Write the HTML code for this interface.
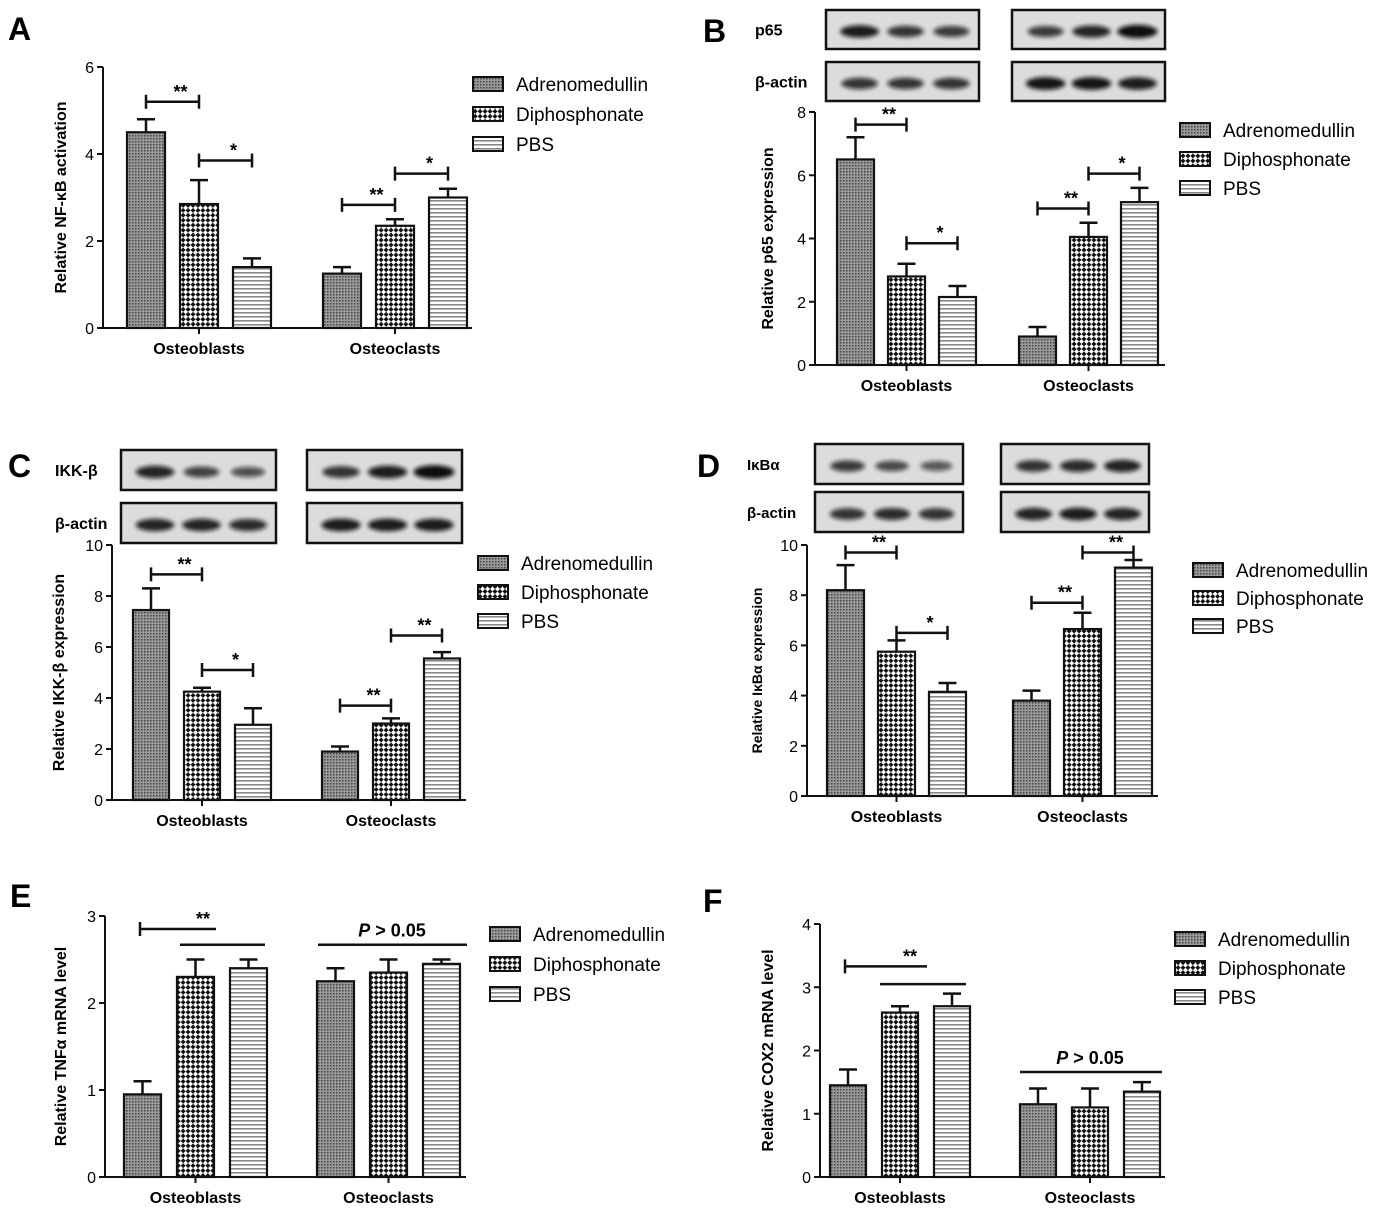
<!DOCTYPE html>
<html><head><meta charset="utf-8"><style>
body{margin:0;background:#fff}
svg text{font-family:"Liberation Sans",sans-serif}
</style></head><body>
<svg id="fig" width="1382" height="1220" xmlns="http://www.w3.org/2000/svg">
<defs>
<pattern id="patA" width="3" height="3" patternUnits="userSpaceOnUse"><rect width="3" height="3" fill="#9a9a9a"/><rect width="1.5" height="1.5" fill="#444"/></pattern>
<pattern id="patD" width="7" height="7" patternUnits="userSpaceOnUse" patternTransform="rotate(45)"><rect width="7" height="7" fill="#fff"/><rect width="3.5" height="3.5" fill="#111"/><rect x="3.5" y="3.5" width="3.5" height="3.5" fill="#111"/></pattern>
<pattern id="patP" width="4" height="4" patternUnits="userSpaceOnUse"><rect width="4" height="4" fill="#fff"/><rect y="0" width="4" height="1.6" fill="#888"/></pattern>
<filter id="blur" x="-30%" y="-80%" width="160%" height="260%"><feGaussianBlur stdDeviation="2.2"/></filter>
</defs>
</svg>
<script>
const categories = ["Osteoblasts","Osteoclasts"];
const seriesNames = ["Adrenomedullin","Diphosphonate","PBS"];
const valsA = [4.5,2.85,1.4,1.25,2.35,3.0];
const errA = [0.3,0.55,0.2,0.15,0.15,0.2];
const ticksA = [0,2,4,6];
const valsB = [6.5,2.8,2.15,0.9,4.05,5.15];
const errB = [0.7,0.4,0.35,0.3,0.45,0.45];
const ticksB = [0,2,4,6,8];
const valsC = [7.45,4.25,2.95,1.9,3.0,5.55];
const errC = [0.85,0.15,0.65,0.2,0.2,0.25];
const ticksC = [0,2,4,6,8,10];
const valsD = [8.2,5.75,4.15,3.8,6.65,9.1];
const errD = [1.0,0.45,0.35,0.4,0.65,0.3];
const ticksD = [0,2,4,6,8,10];
const valsE = [0.95,2.3,2.4,2.25,2.35,2.45];
const errE = [0.15,0.2,0.1,0.15,0.15,0.05];
const ticksE = [0,1,2,3];
const valsF = [1.45,2.6,2.7,1.15,1.1,1.35];
const errF = [0.25,0.1,0.2,0.25,0.3,0.15];
const ticksF = [0,1,2,3,4];
// significance brackets: [barFrom, barTo, yValue, label]
const sigA = [[0,1,5.2,"**"],[1,2,3.85,"*"],[3,4,2.83,"**"],[4,5,3.55,"*"]];
const sigB = [[0,1,7.6,"**"],[1,2,3.85,"*"],[3,4,4.95,"**"],[4,5,6.05,"*"]];
const sigC = [[0,1,8.85,"**"],[1,2,5.1,"*"],[3,4,3.7,"**"],[4,5,6.45,"**"]];
const sigD = [[0,1,9.7,"**"],[1,2,6.5,"*"],[3,4,7.7,"**"],[4,5,9.7,"**"]];
// blot band intensities (0-1) per row: left group 3 lanes, right group 3 lanes
const blotB1 = [0.9,0.75,0.7,0.7,0.85,1.0];
const blotB2 = [0.75,0.75,0.75,0.95,0.95,0.9];
const blotC1 = [0.85,0.65,0.55,0.75,0.9,1.0];
const blotC2 = [0.85,0.85,0.8,0.9,0.9,0.9];
const blotD1 = [0.7,0.6,0.5,0.75,0.8,0.85];
const blotD2 = [0.75,0.8,0.75,0.85,0.9,0.85];

const svg = document.getElementById('fig');
const NS = 'http://www.w3.org/2000/svg';
function mk(tag, attrs, parent){const e=document.createElementNS(NS,tag);for(const k in attrs)e.setAttribute(k,attrs[k]);(parent||svg).appendChild(e);return e;}
const fills = ['url(#patA)','url(#patD)','url(#patP)'];

function panel(p){
  const g = mk('g',{});
  
  
  const ymax = p.ticks[p.ticks.length-1];
  const ys = v => p.y0 - (p.y0-p.y1)*v/ymax;
  const bx = i => (i<3? p.g1 : p.g2) + (i%3)*p.step;
  const bc = i => bx(i)+p.w/2;
  const L = mk('text',{x:p.lx,y:p.ly,'font-size':32,'font-weight':'bold'},g); L.textContent=p.id;
  
  
  p.vals.forEach((v,i)=>{
    const t = ys(v+p.err[i]);
    const eb = mk('path',{d:`M${bc(i)},${ys(v)}V${t}M${bc(i)-9},${t}H${bc(i)+9}`,stroke:'#111','stroke-width':2.5,fill:'none'},g);
    
    
    const r = mk('rect',{x:bx(i),y:ys(v),width:p.w,height:p.y0-ys(v),fill:fills[i%3],stroke:'#111','stroke-width':2.2},g);
    
    
  });
  const ax = mk('path',{d:`M${p.ax},${p.y1}V${p.y0}H${p.xend}`,stroke:'#111','stroke-width':2,fill:'none'},g);
  
  
  p.ticks.forEach(t=>{
    mk('line',{x1:p.ax-6,x2:p.ax,y1:ys(t),y2:ys(t),stroke:'#111','stroke-width':2},g);
    const tx = mk('text',{x:p.ax-9,y:ys(t)+6,'font-size':16,'text-anchor':'end'},g); tx.textContent=t;
    
    
  });
  [0,1].forEach(c=>{
    const mid = (bx(c*3)+bx(c*3+2)+p.w)/2;
    mk('line',{x1:mid,x2:mid,y1:p.y0,y2:p.y0+6,stroke:'#111','stroke-width':2},g);
    const t = mk('text',{x:mid,y:p.y0+26,'font-size':16,'font-weight':'bold','text-anchor':'middle'},g); t.textContent=categories[c];
    
    
  });
  const yt = mk('text',{x:0,y:0,'font-size':p.tfs||16,'font-weight':'bold','text-anchor':'middle',transform:`translate(${p.tx},${(p.y0+p.y1)/2}) rotate(-90)`},g);
  yt.textContent = p.title;
  
  
  (p.sig||[]).forEach(s=>{
    const x1=bc(s[0]), x2=bc(s[1]), y=ys(s[2]);
    const b = mk('path',{d:`M${x1},${y-7}V${y+7}M${x1},${y}H${x2}M${x2},${y-7}V${y+7}`,stroke:'#111','stroke-width':2.5,fill:'none'},g);
    
    
    const st = mk('text',{x:(x1+x2)/2+8,y:y-4,'font-size':18,'font-weight':'bold','text-anchor':'middle'},g); st.textContent=s[3];
    
    
  });
  seriesNames.forEach((n,i)=>{
    const y = p.legY + i*p.legStep;
    const r = mk('rect',{x:p.legX,y:y-7,width:30,height:14,fill:fills[i],stroke:'#111','stroke-width':2},g);
    
    
    const t = mk('text',{x:p.legX+43,y:y+7,'font-size':19},g); t.textContent=n;
    
    
  });
  if(p.blot){
    p.blot.rows.forEach((row,ri)=>{
      const y = p.blot.ry[ri];
      [0,1].forEach(gi=>{
        const x = p.blot.gx[gi];
        const w = p.blot.w, h = p.blot.h;
        const box = mk('rect',{x,y,width:w,height:h,fill:'#dcdcdc',stroke:'#111','stroke-width':2.5},g);
        
        
        for(let k=0;k<3;k++){
          const iv = row[gi*3+k];
          const e = mk('ellipse',{cx:x+w*(0.2+0.3*k)+3,cy:y+h/2+2,rx:w*0.12*(0.7+0.4*iv),ry:h*0.13*(0.6+0.7*iv),fill:'#111','fill-opacity':0.3+0.7*iv,filter:'url(#blur)'},g);
          
          
        }
      });
      const lt = mk('text',{x:p.blot.lx,y:y+p.blot.h/2+6,'font-size':p.blot.fs||16,'font-weight':'bold'},g);
      lt.textContent = p.blot.labels[ri];
      
      
    });
  }
  return {g,ys,bc,bx};
}

panel({id:'A',lx:8,ly:40,ax:103,y0:328,y1:67,xend:472,g1:127,g2:323,step:53,w:38,vals:valsA,err:errA,ticks:ticksA,sig:sigA,title:'Relative NF-κB activation',tx:66,legX:473,legY:84,legStep:30});
panel({id:'B',lx:703,ly:42,ax:815,y0:365,y1:112,xend:1165,g1:837,g2:1019,step:51,w:37,vals:valsB,err:errB,ticks:ticksB,sig:sigB,title:'Relative p65 expression',tx:773,legX:1180,legY:130,legStep:29,
  blot:{rows:[blotB1,blotB2],ry:[10,62],gx:[826,1012],w:153,h:39,lx:755,labels:['p65','β-actin']}});
panel({id:'C',lx:8,ly:477,ax:112,y0:800,y1:545,xend:466,g1:133,g2:322,step:51,w:36,vals:valsC,err:errC,ticks:ticksC,sig:sigC,title:'Relative IKK-β expression',tx:64,legX:478,legY:563,legStep:29,
  blot:{rows:[blotC1,blotC2],ry:[450,503],gx:[121,307],w:155,h:40,lx:55,labels:['IKK-β','β-actin']}});
panel({id:'D',lx:697,ly:477,ax:807,y0:796,y1:545,xend:1158,g1:827,g2:1013,step:51,w:37,vals:valsD,err:errD,ticks:ticksD,sig:sigD,title:'Relative IκBα expression',tx:762,tfs:14,legX:1193,legY:570,legStep:28,
  blot:{rows:[blotD1,blotD2],ry:[444,492],gx:[815,1001],w:148,h:40,lx:747,labels:['IκBα','β-actin'],fs:15}});
const pe = panel({id:'E',lx:10,ly:907,ax:105,y0:1177,y1:916,xend:466,g1:124,g2:317,step:53,w:37,vals:valsE,err:errE,ticks:ticksE,title:'Relative TNFα mRNA level',tx:66,legX:490,legY:934,legStep:30});
const pf = panel({id:'F',lx:703,ly:912,ax:820,y0:1177,y1:924,xend:1165,g1:830,g2:1020,step:52,w:36,vals:valsF,err:errF,ticks:ticksF,title:'Relative COX2 mRNA level',tx:773,legX:1175,legY:939,legStep:29});

function line(d,name){const l=mk('path',{d,stroke:'#111','stroke-width':2.5,fill:'none'});}
function txt(x,y,s,name,italicP){const t=mk('text',{x,y,'font-size':18,'font-weight':'bold','text-anchor':'middle'});
  if(italicP){t.innerHTML='<tspan font-style="italic">P</tspan> &gt; 0.05';}else t.textContent=s;
  }
line(`M140,${pe.ys(2.85)-7}V${pe.ys(2.85)+7}M140,${pe.ys(2.85)}H216`,'significance-bracket');
line(`M180,${pe.ys(2.67)}H265`,'significance-line');
txt(203,pe.ys(2.85)-4,'**','significance-label');
line(`M318,${pe.ys(2.67)}H467`,'ns-line');
txt(392,pe.ys(2.67)-8,'','ns-label',true);
line(`M845,${pf.ys(3.33)-7}V${pf.ys(3.33)+7}M845,${pf.ys(3.33)}H927`,'significance-bracket');
line(`M880,${pf.ys(3.05)}H966`,'significance-line');
txt(910,pf.ys(3.33)-4,'**','significance-label');
line(`M1020,${pf.ys(1.66)}H1162`,'ns-line');
txt(1090,pf.ys(1.66)-8,'','ns-label',true);
</script>
</body></html>
